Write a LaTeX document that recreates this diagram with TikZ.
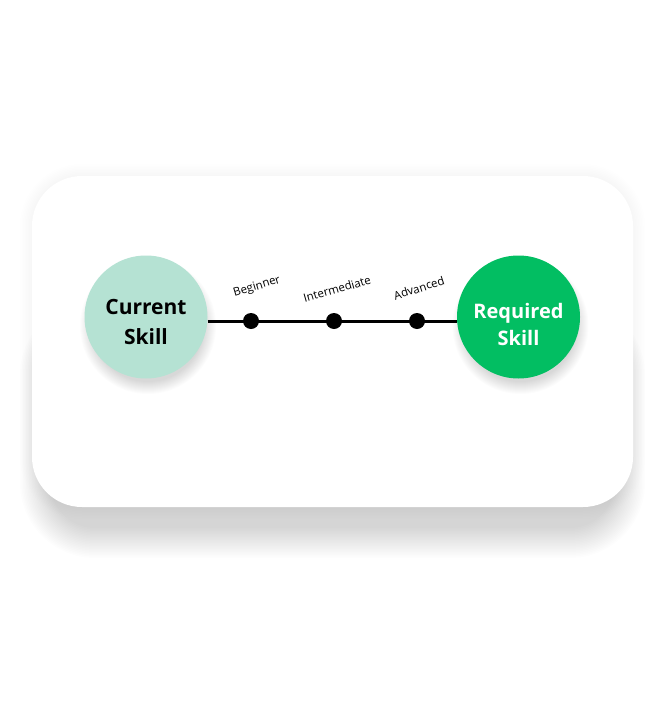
\documentclass[tikz,border=0pt]{standalone}
\usepackage{fontspec}
\setmainfont{Open Sans}
\definecolor{mint}{HTML}{B5E2D3}
\definecolor{green}{HTML}{02BE62}
\tikzset{
  card/.style={fill=white, rounded corners=50pt},
  shade layer/.style={fill=black, fill opacity=0.008, draw=none},
  skill/.style={circle, minimum size=123pt, inner sep=0pt},
  skilltext/.style={align=center, inner sep=0pt, font=\fontsize{21}{30}\selectfont\bfseries},
  dot/.style={circle, fill=black, minimum size=16pt, inner sep=0pt},
  lvl/.style={font=\fontsize{11.5}{13}\selectfont, inner sep=0pt},
  link/.style={line width=3pt}
}
\begin{document}
\begin{tikzpicture}[x=1pt,y=-1pt]
\fill[white] (0,0) rectangle (665,720);
\useasboundingbox (0,0) rectangle (665,720);
% card shadow
\foreach \k in {0,...,20}{
  \pgfmathsetmacro{\e}{(20-\k)*1.5}
  \fill[shade layer, rounded corners={45+\e}] (50-\e,330-\e) rectangle (615+\e,528+\e);
}
\foreach \k in {0,...,8}{
  \pgfmathsetmacro{\e}{(8-\k)*1.5}
  \fill[shade layer, fill opacity=0.004, rounded corners={50+\e}] (32-\e,176-\e) rectangle (633+\e,507+\e);
}
\path[card] (32,176) rectangle (633,507);
% circle shadows
\foreach \k in {0,...,12}{
  \pgfmathsetmacro{\e}{(12-\k)*1.0}
  \fill[shade layer, fill opacity=0.012] (148,326) circle ({56+\e});
  \fill[shade layer, fill opacity=0.012] (520.5,326) circle ({56+\e});
}
\node[skill, fill=mint] (cur) at (146,317) {};
\node[skill, fill=green] (req) at (518.5,317) {};
\node[skilltext, text=black] (curt) at (146,322) {Current\\Skill};
\node[skilltext, text=white, font=\fontsize{20}{27}\selectfont\bfseries] (reqt) at (518.5,324) {Required\\Skill};
\coordinate (mid) at (334,321);
\draw[link] (mid -| cur.east) -- (mid -| req.west);
\node[dot] (d1) at (251,321) {};
\node[dot] (d2) at (334,321) {};
\node[dot] (d3) at (417,321) {};
\node[lvl, rotate=17] (b) at (257,287) {Beginner};
\node[lvl, rotate=16] (i) at (337,289) {Intermediate};
\node[lvl, rotate=18] (a) at (419,288) {Advanced};
\end{tikzpicture}
\end{document}
